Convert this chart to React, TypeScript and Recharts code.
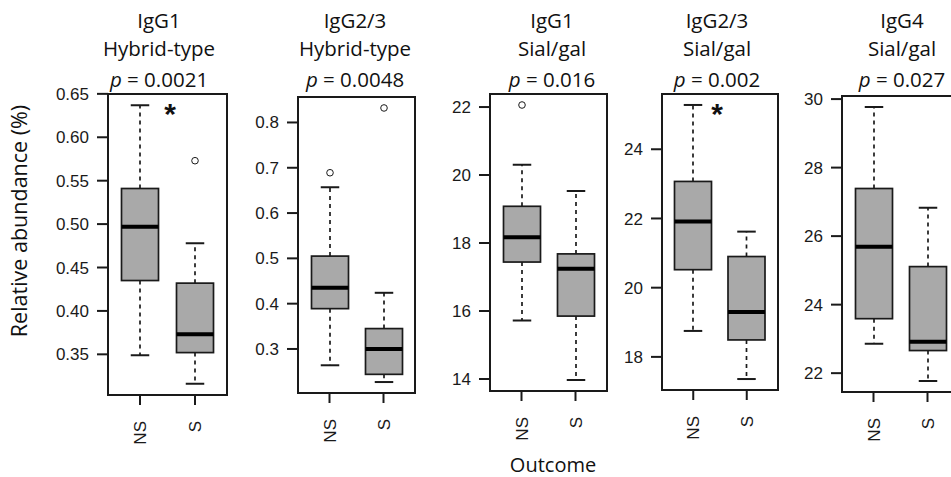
import React from "react";
import { ComposedChart, Bar, XAxis, YAxis } from "recharts";

const outcomes = ["NS", "S"];
const titles = ["IgG1", "IgG2/3", "IgG1", "IgG2/3", "IgG4"];
const subtitles = ["Hybrid-type", "Hybrid-type", "Sial/gal", "Sial/gal", "Sial/gal"];
const pValues = ["0.0021", "0.0048", "0.016", "0.002", "0.027"];

// each entry: [NS, S]
const whiskerLow = [[0.349, 0.316], [0.264, 0.227], [15.72, 13.97], [18.75, 17.36], [22.86, 21.77]];
const quart1 = [[0.435, 0.352], [0.389, 0.244], [17.44, 15.85], [20.52, 18.49], [23.59, 22.66]];
const medians = [[0.497, 0.373], [0.435, 0.3], [18.17, 17.24], [21.91, 19.3], [25.69, 22.92]];
const quart3 = [[0.541, 0.432], [0.505, 0.345], [19.08, 17.68], [23.07, 20.9], [27.39, 25.11]];
const whiskerHigh = [[0.637, 0.478], [0.657, 0.424], [20.3, 19.53], [25.28, 21.62], [29.77, 26.83]];
const outliers: number[][][] = [[[], [0.573]], [[0.689], [0.832]], [[22.06], []], [[], []], [[], []]];

const yTicks = [
  [0.35, 0.4, 0.45, 0.5, 0.55, 0.6, 0.65],
  [0.3, 0.4, 0.5, 0.6, 0.7, 0.8],
  [14, 16, 18, 20, 22],
  [18, 20, 22, 24],
  [22, 24, 26, 28, 30],
];
const yDecimals = [2, 1, 0, 0, 0];

// layout of the plot frames (pixels)
const plotLeft = [108, 298, 490, 662, 842];
const plotRight = [227, 415, 607, 778, 959];
const plotTop = [94, 97, 94, 94, 96];
const plotBottom = [395, 393, 391, 390, 392];
const titleX = [159, 355, 552, 717, 902];
const stars = [{ x: 170, y: 124 }, { x: 717, y: 124 }];

const INK = "#1a1a1a";
const TICK_FONT = "'Liberation Sans', Arial, sans-serif";
const TITLE_FONT = "'Open Sans', sans-serif";
const TOP = 15;

const BoxShape = (props: any) => {
  const { x, y, width, height, payload } = props;
  const { min, q1, med, q3, max, out } = payload;
  // linear position inside the bar that spans [min, max]
  const py = (v: number) => y + (height * (max - v)) / (max - min);
  const cx = x + width / 2;
  const cap = width / 4;
  return (
    <g>
      <line x1={cx} x2={cx} y1={py(q3)} y2={py(max)} stroke={INK} strokeWidth={1.7} strokeDasharray="4 4" />
      <line x1={cx} x2={cx} y1={py(q1)} y2={py(min)} stroke={INK} strokeWidth={1.7} strokeDasharray="4 4" />
      <line x1={cx - cap} x2={cx + cap} y1={py(max)} y2={py(max)} stroke={INK} strokeWidth={2} />
      <line x1={cx - cap} x2={cx + cap} y1={py(min)} y2={py(min)} stroke={INK} strokeWidth={2} />
      <rect x={x} y={py(q3)} width={width} height={py(q1) - py(q3)} fill="#a9a9a9" stroke={INK} strokeWidth={1.7} />
      <line x1={x} x2={x + width} y1={py(med)} y2={py(med)} stroke="#000" strokeWidth={4} />
      {out.map((o: number, k: number) => (
        <circle key={k} cx={cx} cy={py(o)} r={3.3} fill="none" stroke={INK} strokeWidth={1} />
      ))}
    </g>
  );
};

const RotatedTick = (props: any) => {
  const { x, y, payload } = props;
  return (
    <text x={x} y={y} dy={6} transform={`rotate(-90 ${x} ${y})`} textAnchor="end" fontFamily={TICK_FONT} fontSize={17} fill={INK}>
      {payload.value}
    </text>
  );
};

function Panel({ i }: { i: number }) {
  const data = outcomes.map((cat, j) => ({
    cat,
    min: whiskerLow[i][j],
    q1: quart1[i][j],
    med: medians[i][j],
    q3: quart3[i][j],
    max: whiskerHigh[i][j],
    out: outliers[i][j],
  }));
  const all = data.flatMap((d) => [d.min, d.max, ...d.out]);
  const lo = Math.min(...all);
  const hi = Math.max(...all);
  const pad = (hi - lo) * 0.04;
  const w = plotRight[i] - plotLeft[i];
  const h = plotBottom[i] - plotTop[i];
  return (
    <>
      <div style={{ position: "absolute", left: plotLeft[i] - 60, top: plotTop[i] - TOP }}>
        <ComposedChart width={60 + w + 5} height={TOP + h + 55 + 5} data={data} margin={{ top: TOP, right: 5, bottom: 5, left: 0 }}>
          <XAxis
            dataKey="cat"
            type="category"
            height={55}
            padding={{ left: 4.5, right: 4.5 }}
            axisLine={false}
            tickLine={{ stroke: INK, strokeWidth: 2 }}
            tickSize={10}
            tickMargin={16}
            interval={0}
            tick={(p: any) => <RotatedTick {...p} />}
          />
          <YAxis
            type="number"
            width={60}
            domain={[lo - pad, hi + pad]}
            ticks={yTicks[i]}
            interval={0}
            allowDataOverflow
            axisLine={false}
            tickLine={{ stroke: INK, strokeWidth: 2 }}
            tickSize={11}
            tickMargin={8}
            tickFormatter={(v: number) => v.toFixed(yDecimals[i])}
            tick={{ fontSize: 17, fill: INK, fontFamily: TICK_FONT }}
          />
          <Bar dataKey={(d: any) => [d.min, d.max]} barSize={37} shape={<BoxShape />} isAnimationActive={false} />
        </ComposedChart>
      </div>
      <div
        style={{
          position: "absolute",
          left: plotLeft[i] - 1,
          top: plotTop[i] - 1,
          width: w + 2,
          height: h + 2,
          border: `2px solid ${INK}`,
          boxSizing: "border-box",
        }}
      />
    </>
  );
}

export default function App() {
  return (
    <div style={{ position: "absolute", left: 0, top: 0, width: 951, height: 477, overflow: "hidden", background: "#fff" }}>
      {titles.map((_, i) => (
        <Panel key={i} i={i} />
      ))}
      <svg width={951} height={477} style={{ position: "absolute", left: 0, top: 0, pointerEvents: "none" }}>
        {titles.map((t, i) => (
          <g key={i} fontFamily={TITLE_FONT} fontSize={20.5} fill="#111" textAnchor="middle">
            <text x={titleX[i]} y={28}>{t}</text>
            <text x={titleX[i]} y={56}>{subtitles[i]}</text>
            <text x={titleX[i]} y={87}>
              <tspan fontStyle="italic">p</tspan> = {pValues[i]}
            </text>
          </g>
        ))}
        {stars.map((s, k) => (
          <text key={k} x={s.x} y={s.y} textAnchor="middle" fontFamily={TICK_FONT} fontWeight="bold" fontSize={30} fill="#111">
            *
          </text>
        ))}
        <text transform="translate(27 221) rotate(-90)" textAnchor="middle" fontFamily={TITLE_FONT} fontSize={21.5} fill="#111">
          Relative abundance (%)
        </text>
        <text x={553} y={472} textAnchor="middle" fontFamily={TITLE_FONT} fontSize={20} fill="#111">
          Outcome
        </text>
      </svg>
    </div>
  );
}
